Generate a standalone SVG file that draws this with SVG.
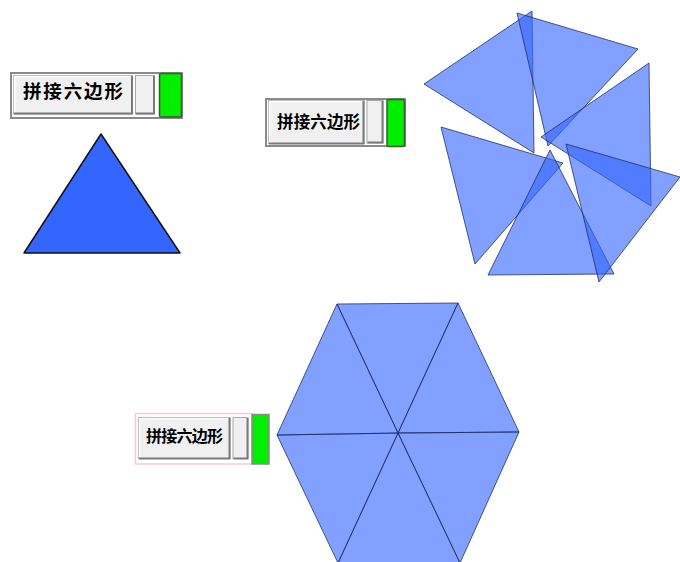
<svg xmlns="http://www.w3.org/2000/svg" width="680" height="562" viewBox="0 0 680 562">
<style>
.frame{fill:#ffffff;stroke:#8a8a8a;stroke-width:2}
.btn{fill:#f0f0f0;stroke:#a8a8a8;stroke-width:1}
.shade{fill:none;stroke:#7a7a7a;stroke-width:2}
.hl{fill:none;stroke:#ffffff;stroke-width:1.5}
.green{fill:#00ee00;stroke:#3a5a3a;stroke-width:1.5}
.lbl{font-family:"Noto Sans CJK SC","Noto Sans",sans-serif;font-weight:bold;fill:#000}
.tri{fill:#3366ff;fill-opacity:0.62;stroke:#1a2a55;stroke-opacity:0.75;stroke-width:1;stroke-linejoin:round}
.solid{fill:#3366ff;stroke:#111;stroke-width:1.5;stroke-linejoin:round}
</style>
<rect width="680" height="562" fill="#ffffff"/>

<g id="button1">
  <rect class="frame" x="11" y="73" width="171" height="45"/>
  <rect class="btn" x="13.5" y="75.5" width="119" height="38.5"/>
  <polyline class="hl" points="14.5,113 14.5,76.5 131.5,76.5"/>
  <polyline class="shade" points="14,113.5 132,113.5 132,76"/>
  <rect class="btn" x="135.5" y="75.5" width="19" height="38.5"/>
  <polyline class="shade" points="136,113.5 154,113.5 154,76"/>
  <rect class="green" x="159.5" y="73.5" width="22" height="43.5" rx="1.5"/>
  <text class="lbl" x="23" y="97.5" font-size="18.5" textLength="100" lengthAdjust="spacing">拼接六边形</text>
</g>

<g id="button2">
  <rect class="frame" x="266" y="99" width="139" height="47"/>
  <rect class="btn" x="268.5" y="100.5" width="95.5" height="43"/>
  <polyline class="hl" points="269.5,143 269.5,101.5 363,101.5"/>
  <polyline class="shade" points="269,143.5 363.5,143.5 363.5,101"/>
  <rect class="btn" x="367" y="100.5" width="16" height="42.5"/>
  <polyline class="shade" points="367.5,142.5 382.5,142.5 382.5,101"/>
  <rect class="green" x="387" y="99.5" width="17.5" height="47" rx="1.5"/>
  <text class="lbl" x="277" y="127.5" font-size="16.5" textLength="83" lengthAdjust="spacing">拼接六边形</text>
</g>

<g id="button3">
  <rect x="135.5" y="413.5" width="117" height="50.5" fill="#ffffff" stroke="#ffc4dc" stroke-width="1.5"/>
  <rect class="btn" x="138.5" y="417.5" width="91.5" height="41"/>
  <polyline class="hl" points="139.5,458 139.5,418.5 229,418.5"/>
  <polyline class="shade" points="139,458.5 229.5,458.5 229.5,418"/>
  <rect class="btn" x="233" y="417.5" width="15" height="41"/>
  <polyline class="shade" points="233.5,458.5 247.5,458.5 247.5,418"/>
  <rect x="252" y="414.5" width="17" height="49.5" fill="#00ee00" stroke="#8a8a8a" stroke-width="1.5"/>
  <text class="lbl" x="146" y="441.5" font-size="16" textLength="77" lengthAdjust="spacing">拼接六边形</text>
</g>

<g id="triangle-single">
  <polygon class="solid" points="101,134 24,253 180,253"/>
</g>

<g id="scattered">
  <polygon class="tri" points="424,84 532,11 534,153"/>
  <polygon class="tri" points="517,13 638,49 548,146"/>
  <polygon class="tri" points="541,137 649,63 651,206"/>
  <polygon class="tri" points="441,127 563,163 475,264"/>
  <polygon class="tri" points="488,275 614,274 550,150"/>
  <polygon class="tri" points="566,144 680,177 599,282"/>
</g>

<g id="hexagon">
  <polygon class="tri" points="398,433 337,304 458,303"/>
  <polygon class="tri" points="398,433 458,303 519,432"/>
  <polygon class="tri" points="398,433 519,432 460,563"/>
  <polygon class="tri" points="398,433 460,563 338,563"/>
  <polygon class="tri" points="398,433 338,563 277,435"/>
  <polygon class="tri" points="398,433 277,435 337,304"/>
</g>

<g id="connectors"></g>
</svg>
